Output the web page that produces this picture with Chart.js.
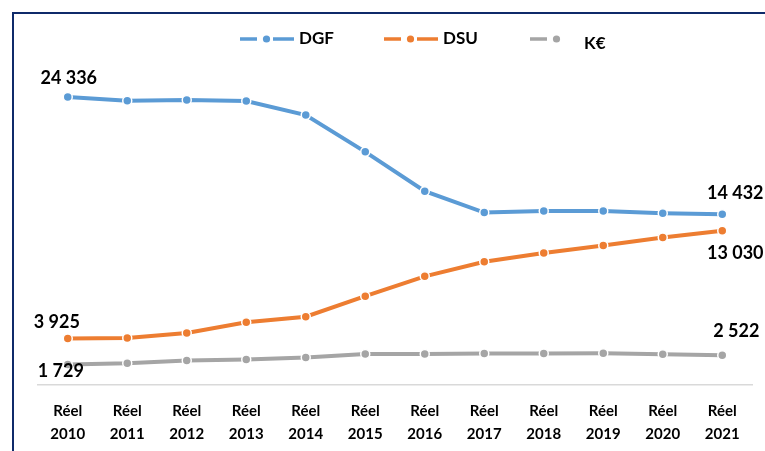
<!DOCTYPE html>
<html><head><meta charset="utf-8">
<script src="https://cdn.jsdelivr.net/npm/chart.js@4"></script>
<style>
html,body{margin:0;padding:0;background:#fff;}
#wrap{position:relative;width:765px;height:451px;overflow:hidden;background:#fff;}
#frame{position:absolute;left:12px;top:12px;width:820px;height:520px;border-left:2px solid #0f2a6a;border-top:2px solid #0f2a6a;box-sizing:border-box;}
#c{position:absolute;left:0;top:0;}
</style></head><body>
<div id="wrap"><div id="frame"></div><canvas id="c" width="765" height="451"></canvas></div>
<script>
// ---- data ----
const categories = ['2010','2011','2012','2013','2014','2015','2016','2017','2018','2019','2020','2021'];
const tickPrefix = 'Réel';
const dgf  = [24336, 24022, 24082, 23997, 22812, 19706, 16379, 14576, 14711, 14711, 14517, 14432];
const dsu  = [3925, 3975, 4396, 5295, 5774, 7505, 9186, 10421, 11151, 11790, 12462, 13030];
const kEur = [1729, 1838, 2065, 2149, 2317, 2628, 2620, 2660, 2660, 2680, 2600, 2522];
const seriesNames = ['DGF', 'DSU', 'K€'];
const seriesColors = ['#5b9bd5', '#ed7d31', '#a5a5a5'];

function fmt(v){ return String(v).replace(/\B(?=(\d{3})+(?!\d))/g, ' '); }

// label offsets for first/last point of each series [dx, dy]
const labelOffsets = [
  [[1,-19],[13,-21]],
  [[-11,-16],[13,22]],
  [[-7,7],[14,-24]]
];

const endLabels = {
  id:'endLabels',
  afterDatasetsDraw(chart){
    const ctx = chart.ctx;
    ctx.save();
    ctx.font = 'bold 18px Lato';
    ctx.fillStyle = '#000';
    ctx.textAlign = 'center';
    ctx.textBaseline = 'middle';
    chart.data.datasets.forEach((ds, i) => {
      const meta = chart.getDatasetMeta(i);
      const n = meta.data.length;
      [0, n-1].forEach((idx, k) => {
        const p = meta.data[idx];
        const o = labelOffsets[i][k];
        ctx.fillText(fmt(ds.data[idx]), p.x + o[0], p.y + o[1]);
      });
    });
    ctx.restore();
  }
};

const legendPlugin = {
  id:'customLegend',
  afterDraw(chart){
    const ctx = chart.ctx;
    ctx.save();
    ctx.lineWidth = 3.5;
    ctx.lineCap = 'butt';
    const items = [
      {x:240, full:true, tx:299, ty:39},
      {x:384, full:true, tx:443, ty:39},
      {x:530, full:false, tx:584, ty:44}
    ];
    items.forEach((it, i) => {
      const col = chart.data.datasets[i].borderColor;
      const y = 39;
      ctx.strokeStyle = col;
      ctx.beginPath(); ctx.moveTo(it.x, y); ctx.lineTo(it.x+17, y); ctx.stroke();
      if (it.full){ ctx.beginPath(); ctx.moveTo(it.x+33, y); ctx.lineTo(it.x+54, y); ctx.stroke(); }
      ctx.fillStyle = col;
      ctx.beginPath(); ctx.arc(it.x+26.5, y, 3.6, 0, Math.PI*2); ctx.fill();
      ctx.fillStyle = '#000';
      ctx.font = 'bold 17px Lato';
      ctx.textAlign = 'left';
      ctx.textBaseline = 'middle';
      ctx.fillText(chart.data.datasets[i].label, it.tx, it.ty);
    });
    ctx.restore();
  }
};

const seriesData = [dgf, dsu, kEur];
new Chart(document.getElementById('c'), {
  type:'line',
  data:{
    labels: categories.map(y => [tickPrefix, y]),
    datasets: seriesData.map((d, i) => ({
      label: seriesNames[i],
      data: d,
      borderColor: seriesColors[i],
      backgroundColor: seriesColors[i],
      borderWidth: 4,
      pointRadius: 4.5,
      pointBorderColor: '#ffffff',
      pointBorderWidth: 1.5,
      pointBackgroundColor: seriesColors[i],
      tension: 0,
      fill: false
    }))
  },
  options:{
    responsive:false,
    animation:false,
    devicePixelRatio:1,
    layout:{padding:{left:38, right:13, top:30, bottom:-10}},
    plugins:{legend:{display:false}, tooltip:{enabled:false}},
    scales:{
      x:{
        offset:true,
        grid:{display:false, drawTicks:false},
        border:{display:true, color:'#d9d9d9', width:1.5},
        ticks:{color:'#000', font:{family:'Lato', weight:'bold', size:15, lineHeight:'23px'}, padding:15, maxRotation:0, autoSkip:false}
      },
      y:{display:false, min:0, max:30000}
    }
  },
  plugins:[endLabels, legendPlugin]
});
</script>
</body></html>
